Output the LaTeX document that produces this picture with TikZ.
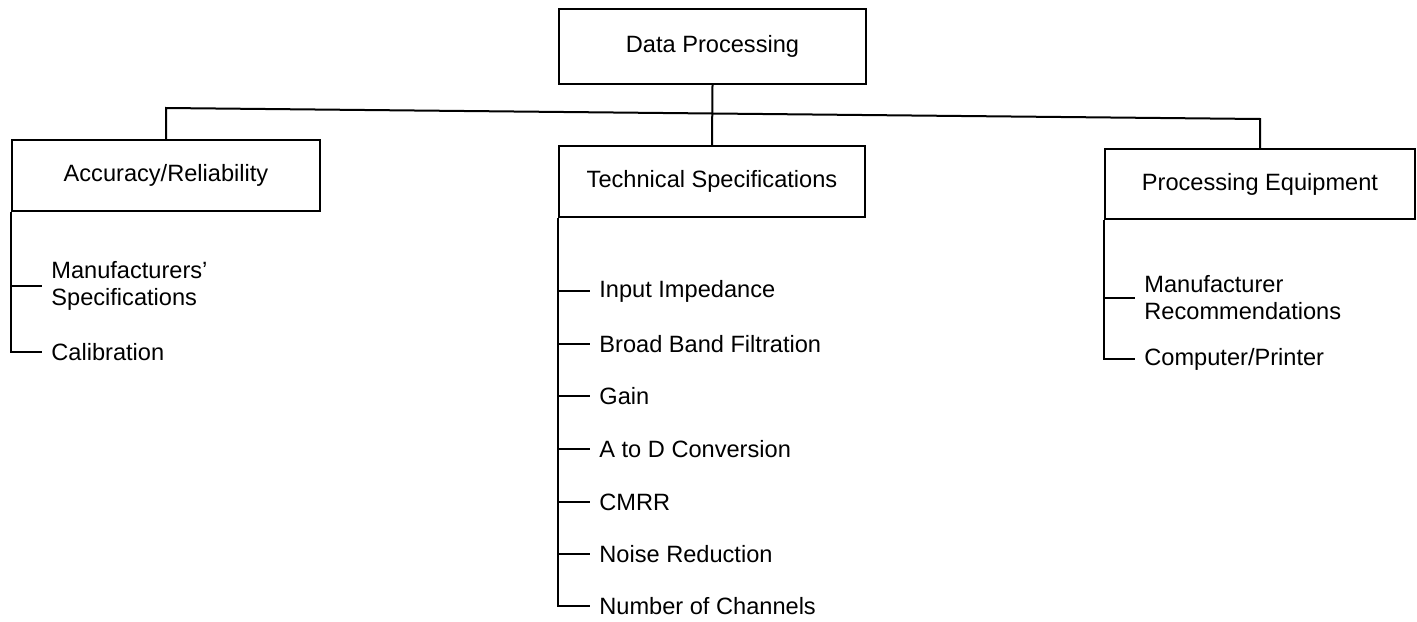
\documentclass[tikz,border=0pt]{standalone}
\usepackage{fontspec}
\setmainfont{Liberation Sans}
\begin{document}
\begin{tikzpicture}[x=0.5pt, y=-0.5pt]
\tikzset{ box/.style={draw, rectangle, line width=1pt, inner sep=0pt, font=\fontsize{11.8}{13.5}\selectfont},
  item/.style={anchor=west, inner xsep=4.5pt, inner ysep=0pt, align=left, font=\fontsize{11.8}{13.5}\selectfont},
  link/.style={line width=1pt},
  tick/.style={line width=0.7pt} }

\useasboundingbox (0,0) rectangle (1417,621);

%%% Caixas

% raiz
\node [box, minimum width=153.5pt, minimum height=37.5pt] (DP) at (712.5,46.5) {Data Processing};

% ramos
\node [box, minimum width=154pt, minimum height=35.5pt] (AR) at (166,175.5) {Accuracy/Reliability};
\node [box, minimum width=153pt, minimum height=35.5pt] (TS) at (712,181.5) {Technical Specifications};
\node [box, minimum width=155pt, minimum height=35pt]   (PE) at (1260,184) {Processing Equipment};

% itens Accuracy/Reliability
\node [item] (MS)  at (42,286) {Manufacturers'\\Specifications};
\node [item] (CAL) at (42,352) {Calibration};

% itens Technical Specifications
\node [item] (II)  at (590,291) {Input Impedance};
\node [item] (BBF) at (590,344) {Broad Band Filtration};
\node [item] (GN)  at (590,396) {Gain};
\node [item] (AD)  at (590,449) {A to D Conversion};
\node [item] (CM)  at (590,502) {CMRR};
\node [item] (NR)  at (590,554) {Noise Reduction};
\node [item] (NC)  at (590,606) {Number of Channels};

% itens Processing Equipment
\node [item] (MR)  at (1135,298) {Manufacturer\\Recommendations};
\node [item] (CP)  at (1135,359) {Computer/Printer};

%%% Linhas

% raiz -> ramos
\coordinate (barL) at (166,108);
\coordinate (barR) at (1260,119);
\draw [link] (DP.south) -- (TS.north);
\draw [link] (AR.north) -- (barL) -- (barR) -- (PE.north);

% Accuracy/Reliability
\draw [link] (AR.south west) -- (AR.south west |- CAL.west) -- (CAL.west);
\draw [tick] (AR.south west |- MS.west) -- (MS.west);

% Technical Specifications
\draw [link] (TS.south west) -- (TS.south west |- NC.west) -- (NC.west);
\draw [tick] (TS.south west |- II.west)  -- (II.west);
\draw [tick] (TS.south west |- BBF.west) -- (BBF.west);
\draw [tick] (TS.south west |- GN.west)  -- (GN.west);
\draw [tick] (TS.south west |- AD.west)  -- (AD.west);
\draw [tick] (TS.south west |- CM.west)  -- (CM.west);
\draw [tick] (TS.south west |- NR.west)  -- (NR.west);

% Processing Equipment
\draw [link] (PE.south west) -- (PE.south west |- CP.west) -- (CP.west);
\draw [tick] (PE.south west |- MR.west) -- (MR.west);

\end{tikzpicture}
\end{document}
